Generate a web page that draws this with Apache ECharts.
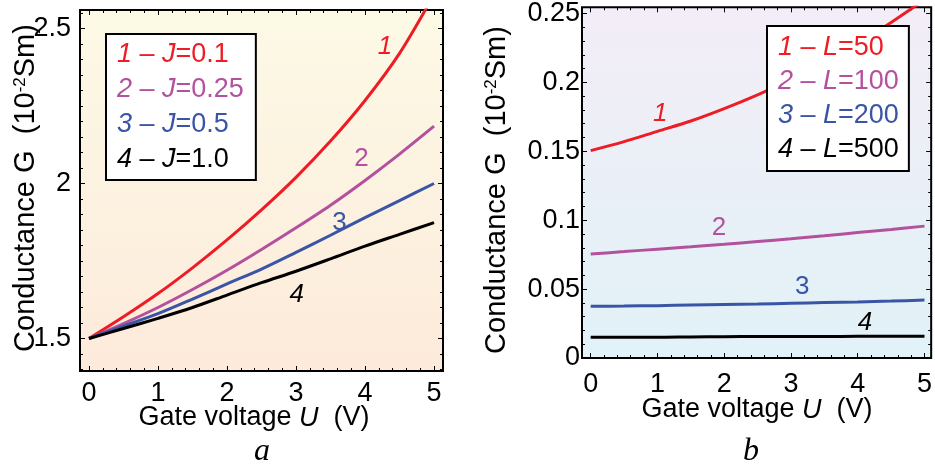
<!DOCTYPE html>
<html><head><meta charset="utf-8">
<script src="https://cdn.jsdelivr.net/npm/echarts@6/dist/echarts.min.js"></script>
<style>html,body{margin:0;padding:0;background:#fff}#c{width:935px;height:466px}</style>
</head><body><div id="c"></div>
<script>
// ---- data ----
const U = [0, 0.5, 1, 1.5, 2, 2.5, 3, 3.5, 4, 4.5, 5];
// panel a
const G_J01  = [1.5, 1.57, 1.645, 1.728, 1.818, 1.915, 2.02, 2.137, 2.268, 2.42, 2.61];
const G_J025 = [1.5, 1.548, 1.6, 1.658, 1.72, 1.787, 1.857, 1.93, 2.01, 2.095, 2.185];
const G_J05  = [1.5, 1.54, 1.58, 1.627, 1.676, 1.724, 1.778, 1.833, 1.89, 1.945, 2.0];
const G_J10  = [1.5, 1.532, 1.565, 1.6, 1.64, 1.68, 1.717, 1.757, 1.798, 1.836, 1.874];
// panel b
const G_L50  = [0.1505, 0.157, 0.1645, 0.172, 0.181, 0.191, 0.202, 0.214, 0.228, 0.2435, 0.26];
const G_L100 = [0.0755, 0.0772, 0.079, 0.0807, 0.0825, 0.0845, 0.0865, 0.0887, 0.091, 0.0933, 0.0957];
const G_L200 = [0.0375, 0.0377, 0.038, 0.0384, 0.0388, 0.0392, 0.0397, 0.0402, 0.0407, 0.0413, 0.042];
const G_L500 = [0.015, 0.015, 0.015, 0.0153, 0.0155, 0.0156, 0.0156, 0.0156, 0.0157, 0.0157, 0.0157];

const namesA = ['1 – J=0.1', '2 – J=0.25', '3 – J=0.5', '4 – J=1.0'];
const namesB = ['1 – L=50', '2 – L=100', '3 – L=200', '4 – L=500'];
const curveTags = ['1', '2', '3', '4'];
const tagPosA = [[4.29, 2.44], [3.95, 2.081], [3.63, 1.874], [3.01, 1.64]];
const tagPosB = [[1.04, 0.1776], [1.92, 0.0948], [3.17, 0.0514], [4.11, 0.0258]];
const tagItalic = [true, false, false, true];

// ticks
const xMajor = [0, 1, 2, 3, 4, 5];
const yMajorA = [1.5, 2, 2.5];
const yMajorB = [0, 0.05, 0.1, 0.15, 0.2, 0.25];
function minors(from, to, step, majors) {
  const out = [];
  for (let v = from; v <= to + 1e-9; v += step) {
    const r = Math.round(v * 1000) / 1000;
    if (!majors.some(m => Math.abs(m - r) < 1e-6)) out.push(r);
  }
  return out;
}
const xMinor = minors(0, 5, 0.2, xMajor);
const yMinorA = minors(1.4, 2.55, 0.05, yMajorA);
const yMinorB = minors(0, 0.25, 0.01, yMajorB);

// ---- styles ----
const FONT = "'Liberation Sans', Arial, sans-serif";
const colors = ['#ee1c25', '#b4519f', '#3a55a5', '#000000'];

const ranges = {
  a: { x: [-0.13, 5.13], y: [1.395, 2.56] },
  b: { x: [-0.13, 5.1], y: [0, 0.2545] }
};

function axis(grid, pos, rng, ticks, len, labels, margin) {
  return {
    type: 'value', gridIndex: grid, position: pos, min: rng[0], max: rng[1],
    axisLine: { show: false, onZero: false },
    splitLine: { show: false },
    axisTick: { show: true, inside: true, length: len, customValues: ticks,
      lineStyle: { color: '#000', width: 1 } },
    axisLabel: labels ? { show: true, customValues: labels, margin: margin,
      fontSize: 27, color: '#000', fontFamily: FONT } : { show: false }
  };
}

const xAxes = [
  axis(0, 'bottom', ranges.a.x, xMajor, 5, xMajor, 9),
  axis(0, 'bottom', ranges.a.x, xMinor, 3, null),
  axis(0, 'top', ranges.a.x, xMajor, 5, null),
  axis(0, 'top', ranges.a.x, xMinor, 3, null),
  axis(1, 'bottom', ranges.b.x, xMajor, 5, xMajor, 13),
  axis(1, 'bottom', ranges.b.x, xMinor, 3, null),
  axis(1, 'top', ranges.b.x, xMajor, 5, null),
  axis(1, 'top', ranges.b.x, xMinor, 3, null)
];
const yAxes = [
  axis(0, 'left', ranges.a.y, yMajorA, 5, yMajorA, 9),
  axis(0, 'left', ranges.a.y, yMinorA, 3, null),
  axis(0, 'right', ranges.a.y, yMajorA, 5, null),
  axis(0, 'right', ranges.a.y, yMinorA, 3, null),
  axis(1, 'left', ranges.b.y, yMajorB, 5, yMajorB, 2),
  axis(1, 'left', ranges.b.y, yMinorB, 3, null),
  axis(1, 'right', ranges.b.y, yMajorB, 5, null),
  axis(1, 'right', ranges.b.y, yMinorB, 3, null)
];

function grad(c1, c2) {
  return { type: 'linear', x: 0, y: 0, x2: 0, y2: 1,
    colorStops: [{ offset: 0, color: c1 }, { offset: 1, color: c2 }] };
}

function mkSeries(names, arrays, axisIdx, tagPos) {
  return names.map((n, i) => ({
    name: n, type: 'line', xAxisIndex: axisIdx, yAxisIndex: axisIdx,
    data: U.map((u, k) => [u, arrays[i][k]]),
    smooth: 0.3, showSymbol: false, clip: true, color: colors[i],
    lineStyle: { width: 3, color: colors[i] },
    markPoint: {
      symbol: 'circle', symbolSize: 0, animation: false,
      data: [{ coord: tagPos[i] }],
      label: { show: true, position: 'inside', formatter: curveTags[i],
        color: colors[i], fontSize: 26, fontFamily: FONT,
        fontStyle: tagItalic[i] ? 'italic' : 'normal' }
    }
  }));
}

const series = [].concat(
  mkSeries(namesA, [G_J01, G_J025, G_J05, G_J10], 0, tagPosA),
  mkSeries(namesB, [G_L50, G_L100, G_L200, G_L500], 4, tagPosB)
);

function legendFmt(name) {
  const m = name.match(/^(\d) – (\w)=(.*)$/);
  return '{n|' + m[1] + '} – {v|' + m[2] + '}={t|' + m[3] + '}';
}
function mkLegend(names, left, top, gap, pad) {
  return {
    data: names.map((n, i) => ({ name: n, textStyle: { color: colors[i] } })),
    orient: 'vertical', left: left, top: top, itemGap: gap, padding: pad,
    itemWidth: 0, itemHeight: 0, icon: 'rect',
    backgroundColor: '#fff', borderColor: '#000', borderWidth: 2, borderRadius: 0,
    selectedMode: false,
    formatter: legendFmt,
    textStyle: { fontSize: 27, fontFamily: FONT, lineHeight: 26,
      rich: { n: { fontStyle: 'italic', fontSize: 27 }, v: { fontStyle: 'italic', fontSize: 27 }, t: { fontSize: 27 } } }
  };
}

function yTitle(x, y) {
  return {
    type: 'text', x: x, y: y, rotation: Math.PI / 2, silent: true,
    style: {
      text: 'Conductance G  (10{sup|-2}Sm)',
      fill: '#000', font: '29px ' + FONT, align: 'center', verticalAlign: 'middle',
      rich: { sup: { fontSize: 17, verticalAlign: 'top', fill: '#000', fontFamily: FONT } }
    }
  };
}
function xTitle(x, y) {
  return {
    type: 'text', x: x, y: y, silent: true,
    style: {
      text: 'Gate voltage {u|U}  (V)',
      fill: '#000', font: '27px ' + FONT, align: 'center', verticalAlign: 'middle',
      rich: { u: { fontStyle: 'italic', fontSize: 27, fontFamily: FONT, fill: '#000' } }
    }
  };
}
function panelTag(t, x, y) {
  return { type: 'text', x: x, y: y, silent: true,
    style: { text: t, fill: '#000', font: 'italic 32px "Liberation Serif", serif',
      align: 'center', verticalAlign: 'middle' } };
}

const chart = echarts.init(document.getElementById('c'), null, { renderer: 'canvas' });
chart.setOption({
  animation: false,
  backgroundColor: '#fff',
  grid: [
    { left: 80, top: 10, width: 363, height: 361, show: true,
      backgroundColor: grad('#fcfae6', '#fdeadb'), borderColor: '#000', borderWidth: 2 },
    { left: 582, top: 4, width: 352, height: 354, show: true,
      backgroundColor: grad('#f3edf6', '#e1f2f8'), borderColor: '#000', borderWidth: 2 }
  ],
  xAxis: xAxes,
  yAxis: yAxes,
  legend: [
    mkLegend(namesA, 106, 34, 8, [7, 12, 7, 6]),
    mkLegend(namesB, 767, 26, 7, [8, 10, 8, 6])
  ],
  series: series,
  graphic: [
    yTitle(26, 188), yTitle(497, 190),
    xTitle(254, 418), xTitle(757, 410),
    panelTag('a', 262, 452), panelTag('b', 751, 452)
  ]
});
</script></body></html>
